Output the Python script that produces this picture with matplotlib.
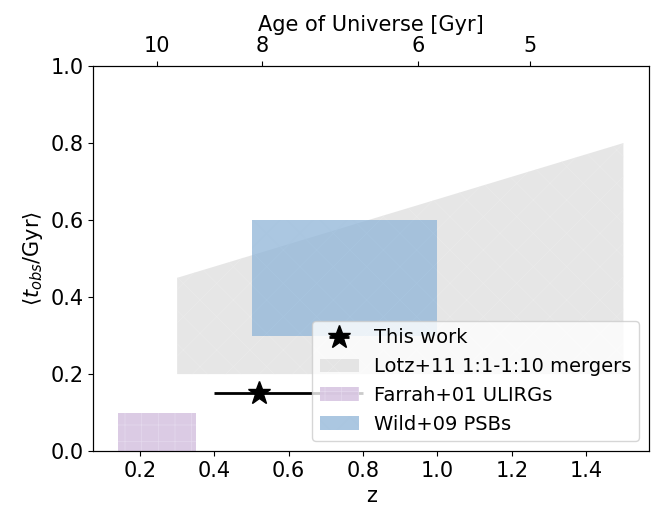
import numpy as np
import matplotlib.pyplot as plt

plt.rcParams['font.size'] = 15

lotz_z = [0.3, 1.5, 1.5, 0.3]
lotz_t = [0.2, 0.2, 0.8, 0.45]
farrah_z = [0.14, 0.35]
farrah_t = [0.0, 0.1]
wild_z = [0.5, 1.0]
wild_t = [0.3, 0.6]
this_z, this_t = 0.52, 0.15
this_zerr = [[0.12], [0.28]]
age_labels = ['10', '8', '6', '5']
age_z = [0.245, 0.529, 0.947, 1.248]

fig = plt.figure(figsize=(6.65, 5.08), dpi=100)
ax = fig.add_axes([0.14, 0.112, 0.836, 0.758])

plt.rcParams['hatch.linewidth'] = 0.5
ax.fill(lotz_z, lotz_t, color='#dcdcdc', alpha=0.7, hatch='x', edgecolor='#ececec', lw=0,
        label='Lotz+11 1:1-1:10 mergers')
ax.fill_between(farrah_z, farrah_t[0], farrah_t[1], color='#d8c6e2', hatch='+', edgecolor='#e6dbee',
                lw=0, alpha=0.9, label='Farrah+01 ULIRGs')
ax.fill_between(wild_z, wild_t[0], wild_t[1], color='#8fb5d8', hatch='x', edgecolor='#a9c6e0',
                lw=0, alpha=0.75, label='Wild+09 PSBs')
ax.errorbar(this_z, this_t, xerr=this_zerr, fmt='*', color='k', ms=17, lw=2, label='This work')

ax.set_xlim(0.074, 1.569)
ax.set_ylim(0, 1.0)
ax.set_xlabel('z')
ax.set_ylabel(r'$\langle t_{obs}$/Gyr$\rangle$')

h, l = ax.get_legend_handles_labels()
order = [3, 0, 1, 2]
ax.legend([h[i] for i in order], [l[i] for i in order], loc='lower right', fontsize=14)

ax2 = ax.twiny()
ax2.set_xlim(ax.get_xlim())
ax2.set_xticks(age_z)
ax2.set_xticklabels(age_labels)
ax2.set_xlabel('Age of Universe [Gyr]')

fig.savefig('out.png', dpi=100)
